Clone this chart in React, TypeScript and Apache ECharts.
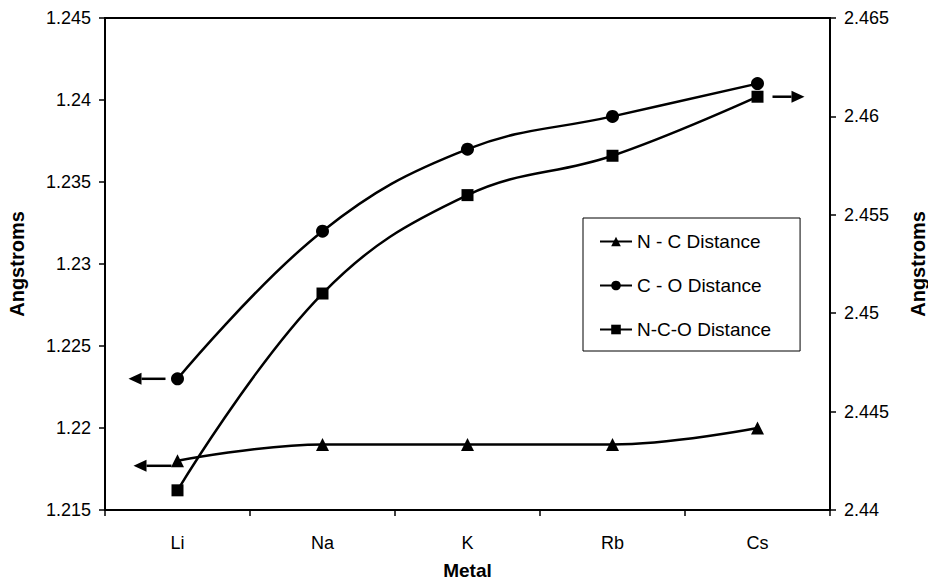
import React, { useEffect, useRef } from "react";
import * as echarts from "echarts";

const categories = ["Li", "Na", "K", "Rb", "Cs"];
const ncDistance = [1.218, 1.219, 1.219, 1.219, 1.22];
const coDistance = [1.223, 1.232, 1.237, 1.239, 1.241];
const ncoDistance = [2.441, 2.451, 2.456, 2.458, 2.461];
const seriesNames = ["N - C Distance", "C - O Distance", "N-C-O Distance"];

const FONT = "'Liberation Sans', Arial, Helvetica, sans-serif";

const fmt = (v: number) => String(parseFloat(v.toFixed(3)));

export default function App() {
  const ref = useRef<HTMLDivElement>(null);
  useEffect(() => {
    if (!ref.current) return;
    const chart = echarts.init(ref.current, null, { renderer: "svg" });
    const lineStyle = { color: "#000", width: 2.5 };
    chart.setOption({
      animation: false,
      backgroundColor: "#fff",
      textStyle: { fontFamily: FONT },
      grid: {
        left: 105,
        top: 18,
        right: 98,
        bottom: 73,
        containLabel: false,
        outerBoundsMode: "none",
        show: true,
        borderColor: "#000",
        borderWidth: 2,
      },
      legend: {
        orient: "vertical",
        left: 583,
        top: 218,
        padding: [14, 29, 12, 16],
        itemGap: 25,
        itemWidth: 32,
        itemHeight: 12,
        borderColor: "#000",
        borderWidth: 1,
        backgroundColor: "#fff",
        textStyle: { fontSize: 19, color: "#000", fontFamily: FONT },
        data: seriesNames,
      },
      xAxis: {
        type: "category",
        data: categories,
        boundaryGap: true,
        name: "Metal",
        nameLocation: "middle",
        nameGap: 51,
        nameTextStyle: { fontSize: 19, fontWeight: "bold", color: "#000", fontFamily: FONT },
        axisLine: { lineStyle: { color: "#000", width: 2 } },
        axisTick: { show: true, length: 6, lineStyle: { color: "#000", width: 1.5 } },
        axisLabel: { fontSize: 18, color: "#000", margin: 24, fontFamily: FONT },
      },
      yAxis: [
        {
          type: "value",
          min: 1.215,
          max: 1.245,
          interval: 0.005,
          name: "Angstroms",
          nameLocation: "middle",
          nameRotate: 90,
          nameGap: 78,
          nameTextStyle: { fontSize: 20, fontWeight: "bold", color: "#000", fontFamily: FONT },
          axisLine: { show: true, lineStyle: { color: "#000", width: 2 } },
          axisTick: { show: true, length: 6, lineStyle: { color: "#000", width: 1.5 } },
          axisLabel: { fontSize: 18, color: "#000", margin: 14, formatter: fmt, fontFamily: FONT },
          splitLine: { show: false },
        },
        {
          type: "value",
          min: 2.44,
          max: 2.465,
          interval: 0.005,
          position: "right",
          name: "Angstroms",
          nameLocation: "middle",
          nameRotate: 90,
          nameGap: 78,
          nameTextStyle: { fontSize: 20, fontWeight: "bold", color: "#000", fontFamily: FONT },
          axisLine: { show: true, lineStyle: { color: "#000", width: 2 } },
          axisTick: { show: true, length: 6, lineStyle: { color: "#000", width: 1.5 } },
          axisLabel: { fontSize: 18, color: "#000", margin: 14, formatter: fmt, fontFamily: FONT },
          splitLine: { show: false },
        },
      ],
      series: [
        {
          name: seriesNames[0],
          type: "line",
          data: ncDistance,
          yAxisIndex: 0,
          smooth: 0.4,
          symbol: "triangle",
          symbolSize: 13,
          itemStyle: { color: "#000" },
          lineStyle,
        },
        {
          name: seriesNames[1],
          type: "line",
          data: coDistance,
          yAxisIndex: 0,
          smooth: 0.4,
          symbol: "circle",
          symbolSize: 13,
          itemStyle: { color: "#000" },
          lineStyle,
        },
        {
          name: seriesNames[2],
          type: "line",
          data: ncoDistance,
          yAxisIndex: 1,
          smooth: 0.4,
          symbol: "rect",
          symbolSize: 12,
          itemStyle: { color: "#000" },
          lineStyle,
        },
      ],
    });

    // axis-indicator arrows, anchored to data points
    const arrowDefs = [
      { y: 0, cat: categories[0], val: coDistance[0], from: -12, to: -49, dy: 0 },
      { y: 0, cat: categories[0], val: ncDistance[0], from: -6, to: -44, dy: 5 },
      { y: 1, cat: categories[4], val: ncoDistance[4], from: 15, to: 47, dy: 0 },
    ];
    const graphic: any[] = [];
    arrowDefs.forEach((a) => {
      const p = chart.convertToPixel({ xAxisIndex: 0, yAxisIndex: a.y }, [a.cat, a.val]) as number[];
      const x0 = p[0] + a.from;
      const x1 = p[0] + a.to;
      const yy = p[1] + a.dy;
      const dir = Math.sign(a.to - a.from);
      const headLen = 13;
      graphic.push({
        type: "line",
        shape: { x1: x0, y1: yy, x2: x1 - dir * headLen, y2: yy },
        style: { stroke: "#000", lineWidth: 2.5 },
        z: 100,
      });
      graphic.push({
        type: "polygon",
        shape: {
          points: [
            [x1, yy],
            [x1 - dir * headLen, yy - 6],
            [x1 - dir * headLen, yy + 6],
          ],
        },
        style: { fill: "#000" },
        z: 100,
      });
    });
    chart.setOption({ graphic });

    return () => chart.dispose();
  }, []);
  return (
    <div
      ref={ref}
      style={{ position: "fixed", left: 0, top: 0, width: 928, height: 583 }}
    />
  );
}
